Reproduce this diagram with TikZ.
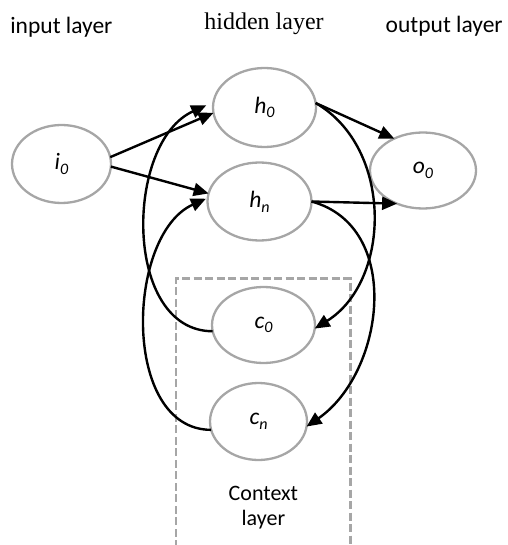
\documentclass[tikz,border=0pt]{standalone}
\usepackage{fontspec}
\setmainfont{Carlito}
\newfontfamily\titleserif{Liberation Serif}
\usetikzlibrary{arrows.meta,shapes.geometric}

\definecolor{ringgray}{HTML}{A6A6A6}

% lowered, smaller index for the unit names
\newcommand{\lowsub}[1]{\raisebox{-0.2em}{\fontsize{16}{16}\selectfont #1}}

\begin{document}
\begin{tikzpicture}[x=1pt,y=-1pt,
  unit/.style={ellipse, draw=ringgray, line width=2.3pt, inner sep=0pt, outer sep=0pt,
               font=\fontsize{23.5}{23.5}\selectfont\itshape},
  link/.style={line width=2.4pt, -{Triangle[length=15pt,width=13pt]}},
  title/.style={anchor=base, inner sep=0pt, font=\fontsize{23.5}{26}\selectfont},
  frame/.style={draw=ringgray, line width=2.3pt, dash pattern=on 8pt off 3.5pt},
]
\useasboundingbox (0,0) rectangle (507,545);

% layer titles
\node[title] (tin)  at (61.4,33.3) {input layer};
\node[title, font=\fontsize{24}{26}\selectfont\titleserif] (thid) at (264,29.3) {hidden layer};
\node[title] (tout) at (444.2,32.7) {output layer};

% context layer frame (open at the bottom)
\draw[frame] (175.7,548) -- (175.7,278.5) -- (350.5,278.5) -- (350.5,548);
\node[title, font=\fontsize{22}{25}\selectfont] (ctx1) at (263.4,500) {Context};
\node[title, font=\fontsize{22}{25}\selectfont] (ctx2) at (263.4,525) {layer};

% units
\node[unit, minimum width=99pt,  minimum height=78pt] (i0) at (61.5,164)   {i\lowsub{0}};
\node[unit, minimum width=103pt, minimum height=79pt] (h0) at (264.5,107.5) {h\lowsub{0}};
\node[unit, minimum width=104pt, minimum height=78pt] (hn) at (259.5,201.5) {h\lowsub{n}};
\node[unit, minimum width=106pt, minimum height=76pt] (o0) at (423,170.5)   {o\lowsub{0}};
\node[unit, minimum width=103pt, minimum height=76pt] (c0) at (263.5,325)   {c\lowsub{0}};
\node[unit, minimum width=97pt,  minimum height=77pt] (cn) at (258.5,421.5) {c\lowsub{n}};

% feed-forward connections
\draw[link] (i0.8)  -- (h0.186);
\draw[link] (i0.-3) -- (hn.171);
\draw[link] (h0.5)  -- (o0.132);
\draw[link] (hn.0)  -- (o0.232);

% copies into the context units
\draw[link] (h0.5) .. controls +(78,45) and +(76.5,-47.7) .. (c0.356);
\draw[link] (hn.0) .. controls +(92,25) and +(78,-54) .. (cn.-6);

% recurrent feedback to the hidden units
\draw[link, shorten >=8pt] (c0.187) .. controls +(-90,0) and +(-89,40) .. (h0.174);
\draw[link, shorten >=2pt] (cn.190) .. controls +(-90,0) and +(-82,37) .. (hn.176);
\end{tikzpicture}
\end{document}
